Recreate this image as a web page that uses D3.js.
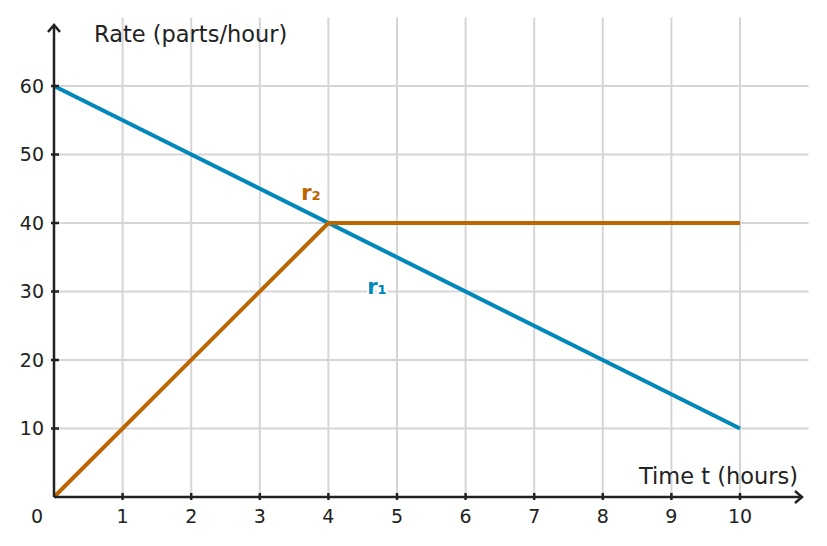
<!DOCTYPE html>
<html>
<head>
<meta charset="utf-8">
<style>
  body { margin: 0; background: #fff; }
  text { font-family: "DejaVu Sans", sans-serif; fill: #222; }
</style>
</head>
<body>
<svg id="chart"></svg>
<script src="https://d3js.org/d3.v7.min.js"></script>
<script>
// data
const xTicks = [1, 2, 3, 4, 5, 6, 7, 8, 9, 10];
const yTicks = [10, 20, 30, 40, 50, 60];
const r1Hours = [0, 10];
const r1Rate = [60, 10];
const r2Hours = [0, 4, 10];
const r2Rate = [0, 40, 40];

const W = 827, H = 546;
const svg = d3.select('#chart').attr('width', W).attr('height', H);

const x = d3.scaleLinear().domain([0, 11]).range([54, 808.6]);
const y = d3.scaleLinear().domain([0, 70]).range([497, 17.5]);

const blue = '#0088bb', orange = '#bb6600', ink = '#222';

// grid
svg.append('g').selectAll('line')
  .data(xTicks).enter().append('line')
  .attr('x1', d => x(d)).attr('x2', d => x(d))
  .attr('y1', y(0)).attr('y2', y(70))
  .attr('stroke', '#d6d6d6').attr('stroke-width', 2);
svg.append('g').selectAll('line')
  .data(yTicks).enter().append('line')
  .attr('x1', x(0)).attr('x2', x(11))
  .attr('y1', d => y(d)).attr('y2', d => y(d))
  .attr('stroke', '#d6d6d6').attr('stroke-width', 2);

// lines
const line = d3.line().x(d => x(d[0])).y(d => y(d[1]));
svg.append('path')
  .datum(d3.zip(r1Hours, r1Rate))
  .attr('d', line).attr('fill', 'none')
  .attr('stroke', blue).attr('stroke-width', 4);
svg.append('path')
  .datum(d3.zip(r2Hours, r2Rate))
  .attr('d', line).attr('fill', 'none')
  .attr('stroke', orange).attr('stroke-width', 4);

// axes
svg.append('line')
  .attr('x1', x(0)).attr('x2', 802).attr('y1', y(0)).attr('y2', y(0))
  .attr('stroke', ink).attr('stroke-width', 2.5);
svg.append('path')
  .attr('d', `M${795},${y(0) - 6}L${802},${y(0)}L${795},${y(0) + 6}`)
  .attr('fill', 'none').attr('stroke', ink).attr('stroke-width', 2.5);
svg.append('line')
  .attr('x1', x(0)).attr('x2', x(0)).attr('y1', y(0)).attr('y2', 25)
  .attr('stroke', ink).attr('stroke-width', 2.5);
svg.append('path')
  .attr('d', `M${x(0) - 6},${32}L${x(0)},${25}L${x(0) + 6},${32}`)
  .attr('fill', 'none').attr('stroke', ink).attr('stroke-width', 2.5);

// ticks
svg.append('g').selectAll('line')
  .data(xTicks).enter().append('line')
  .attr('x1', d => x(d)).attr('x2', d => x(d))
  .attr('y1', y(0) - 4).attr('y2', y(0) + 3)
  .attr('stroke', ink).attr('stroke-width', 2.5);
svg.append('g').selectAll('line')
  .data(yTicks).enter().append('line')
  .attr('x1', x(0) - 3).attr('x2', x(0) + 5)
  .attr('y1', d => y(d)).attr('y2', d => y(d))
  .attr('stroke', ink).attr('stroke-width', 2.5);

// tick labels
svg.append('g').selectAll('text')
  .data(xTicks).enter().append('text')
  .attr('x', d => x(d)).attr('y', 523)
  .attr('text-anchor', 'middle').attr('font-size', 19)
  .text(d => d);
svg.append('text').attr('x', 37).attr('y', 523)
  .attr('text-anchor', 'middle').attr('font-size', 19).text('0');
svg.append('g').selectAll('text')
  .data(yTicks).enter().append('text')
  .attr('x', 44).attr('y', d => y(d) + 6.5)
  .attr('text-anchor', 'end').attr('font-size', 19)
  .text(d => d);

// axis titles
svg.append('text').attr('x', 94).attr('y', 42)
  .attr('font-size', 22.5).text('Rate (parts/hour)');
svg.append('text').attr('x', 798).attr('y', 484)
  .attr('text-anchor', 'end').attr('font-size', 22.5).text('Time t (hours)');

// series labels
svg.append('text').attr('x', 311).attr('y', 200)
  .attr('text-anchor', 'middle').attr('font-size', 21).attr('font-weight', 'bold')
  .style('fill', orange).attr('stroke', '#fff').attr('stroke-width', 4)
  .attr('paint-order', 'stroke').text('r₂');
svg.append('text').attr('x', 377).attr('y', 294)
  .attr('text-anchor', 'middle').attr('font-size', 21).attr('font-weight', 'bold')
  .style('fill', blue).attr('stroke', '#fff').attr('stroke-width', 4)
  .attr('paint-order', 'stroke').text('r₁');
</script>
</body>
</html>
